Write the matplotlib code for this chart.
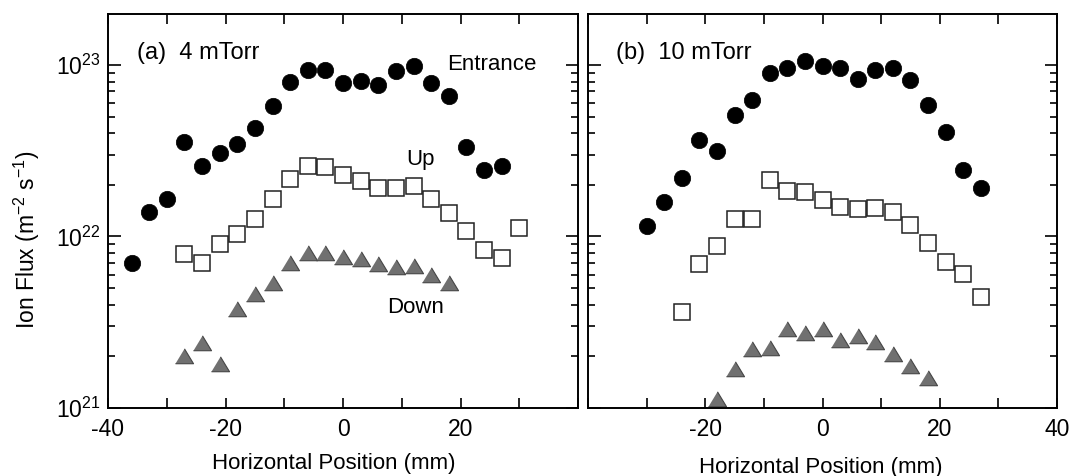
import matplotlib
matplotlib.use("Agg")
import matplotlib.pyplot as plt
from matplotlib.ticker import MultipleLocator, LogLocator, FixedLocator, FixedFormatter, NullFormatter
import numpy as np

plt.rcParams['font.family'] = ['Liberation Sans', 'DejaVu Sans']
plt.rcParams['mathtext.fontset'] = 'custom'
plt.rcParams['mathtext.rm'] = 'Liberation Sans'
plt.rcParams['mathtext.it'] = 'Liberation Sans'
plt.rcParams['mathtext.default'] = 'regular'

# ---------------- data ----------------
# (a) 4 mTorr
a_entr_x = [-36, -33, -30, -27, -24, -21, -18, -15, -12, -9, -6, -3, 0, 3, 6, 9, 12, 15, 18, 21, 24, 27]
a_entr_y = [7.0e21, 1.38e22, 1.66e22, 3.53e22, 2.59e22, 3.07e22, 3.47e22, 4.28e22, 5.78e22, 8.0e22,
            9.35e22, 9.35e22, 7.8e22, 8.1e22, 7.65e22, 9.2e22, 9.9e22, 7.8e22, 6.6e22, 3.32e22, 2.43e22, 2.57e22]
a_up_x = [-27, -24, -21, -18, -15, -12, -9, -6, -3, 0, 3, 6, 9, 12, 15, 18, 21, 24, 27, 30]
a_up_y = [7.85e21, 7.0e21, 8.98e21, 1.03e22, 1.26e22, 1.66e22, 2.17e22, 2.57e22, 2.53e22, 2.29e22,
          2.1e22, 1.92e22, 1.92e22, 1.96e22, 1.66e22, 1.37e22, 1.07e22, 8.3e21, 7.5e21, 1.12e22]
a_down_x = [-27, -24, -21, -18, -15, -12, -9, -6, -3, 0, 3, 6, 9, 12, 15, 18]
a_down_y = [2.01e21, 2.39e21, 1.80e21, 3.80e21, 4.6e21, 5.38e21, 7.04e21, 7.96e21, 7.96e21, 7.62e21,
            7.35e21, 6.87e21, 6.63e21, 6.72e21, 5.93e21, 5.38e21]

# (b) 10 mTorr
b_entr_x = [-30, -27, -24, -21, -18, -15, -12, -9, -6, -3, 0, 3, 6, 9, 12, 15, 18, 21, 24, 27]
b_entr_y = [1.15e22, 1.58e22, 2.19e22, 3.63e22, 3.16e22, 5.12e22, 6.26e22, 9.0e22, 9.6e22, 1.05e23,
            9.86e22, 9.64e22, 8.3e22, 9.35e22, 9.64e22, 8.18e22, 5.85e22, 4.09e22, 2.43e22, 1.92e22]
b_up_x = [-24, -21, -18, -15, -12, -9, -6, -3, 0, 3, 6, 9, 12, 15, 18, 21, 24, 27]
b_up_y = [3.63e21, 6.87e21, 8.78e21, 1.27e22, 1.26e22, 2.14e22, 1.85e22, 1.81e22, 1.64e22, 1.49e22,
          1.44e22, 1.47e22, 1.38e22, 1.16e22, 9.1e21, 7.13e21, 6.01e21, 4.41e21]
b_down_x = [-18, -15, -12, -9, -6, -3, 0, 3, 6, 9, 12, 15, 18]
b_down_y = [1.13e21, 1.69e21, 2.2e21, 2.25e21, 2.88e21, 2.75e21, 2.88e21, 2.49e21, 2.63e21,
            2.43e21, 2.06e21, 1.76e21, 1.49e21]

panel_titles = ["(a)  4 mTorr", "(b)  10 mTorr"]
xtick_labels_a = ["-40", "-20", "0", "20", ""]
xtick_labels_b = ["", "-20", "0", "20", "40"]
ytick_labels = ["10$^{21}$", "10$^{22}$", "10$^{23}$"]
xlabel = "Horizontal Position (mm)"
ylabel = "Ion Flux (m$^{-2}$ s$^{-1}$)"

# ---------------- figure ----------------
W, H = 1070, 476
fig = plt.figure(figsize=(W / 100, H / 100), dpi=100)

def px_rect(x0, x1, ytop, ybot):
    return [x0 / W, 1 - ybot / H, (x1 - x0) / W, (ybot - ytop) / H]

axA = fig.add_axes(px_rect(108, 578, 14, 408))
axB = fig.add_axes(px_rect(588, 1057, 14, 408))

tri = [(-1.0, -0.8), (1.0, -0.8), (0.0, 0.85)]

def draw(ax, ex, ey, ux, uy, dx, dy):
    ax.plot(ex, ey, 'o', ms=11.8, mfc='black', mec='black', mew=0.5, ls='none')
    ax.plot(ux, uy, 's', ms=11, mfc='white', mec='#222222', mew=1.1, ls='none')
    ax.plot(dx, dy, marker=tri, ms=13, mfc='#707070', mec='#454545', mew=0.8, ls='none')

draw(axA, a_entr_x, a_entr_y, a_up_x, a_up_y, a_down_x, a_down_y)
draw(axB, b_entr_x, b_entr_y, b_up_x, b_up_y, b_down_x, b_down_y)

for ax, labels in ((axA, xtick_labels_a), (axB, xtick_labels_b)):
    ax.set_yscale('log')
    ax.set_xlim(-40, 40)
    ax.set_ylim(1e21, 1.98e23)
    ax.xaxis.set_major_locator(FixedLocator([-40, -20, 0, 20, 40]))
    ax.xaxis.set_major_formatter(FixedFormatter(labels))
    ax.xaxis.set_minor_locator(MultipleLocator(10))
    ax.yaxis.set_major_locator(FixedLocator([1e21, 1e22, 1e23]))
    ax.yaxis.set_minor_locator(LogLocator(base=10, subs=np.arange(2, 10), numticks=10))
    ax.yaxis.set_minor_formatter(NullFormatter())
    ax.tick_params(which='both', direction='in', top=True, right=True, width=1.2)
    ax.tick_params(axis='x', which='both', length=7, labelsize=16.5, pad=7)
    ax.tick_params(axis='y', which='major', length=9, labelsize=16.5, pad=5)
    ax.tick_params(axis='y', which='minor', length=5)
    for s in ax.spines.values():
        s.set_linewidth(1.4)

axA.yaxis.set_major_formatter(FixedFormatter(ytick_labels))
axB.yaxis.set_major_formatter(NullFormatter())

axA.text(-35.1, 1.17e23, panel_titles[0], fontsize=17, ha='left', va='center')
axB.text(-35.2, 1.17e23, panel_titles[1], fontsize=17, ha='left', va='center')
axA.text(17.7, 1.0e23, "Entrance", fontsize=16, ha='left', va='center')
axA.text(10.7, 2.8e22, "Up", fontsize=16, ha='left', va='center')
axA.text(7.5, 3.86e21, "Down", fontsize=16, ha='left', va='center')

fig.text(334 / W, 1 - 463 / H, xlabel, fontsize=16, ha='center', va='center')
fig.text(821 / W, 1 - 467 / H, xlabel, fontsize=16, ha='center', va='center')
fig.text(27 / W, 1 - 240 / H, ylabel, fontsize=16.5, ha='center', va='center', rotation=90)

fig.savefig("out.png", dpi=100)
